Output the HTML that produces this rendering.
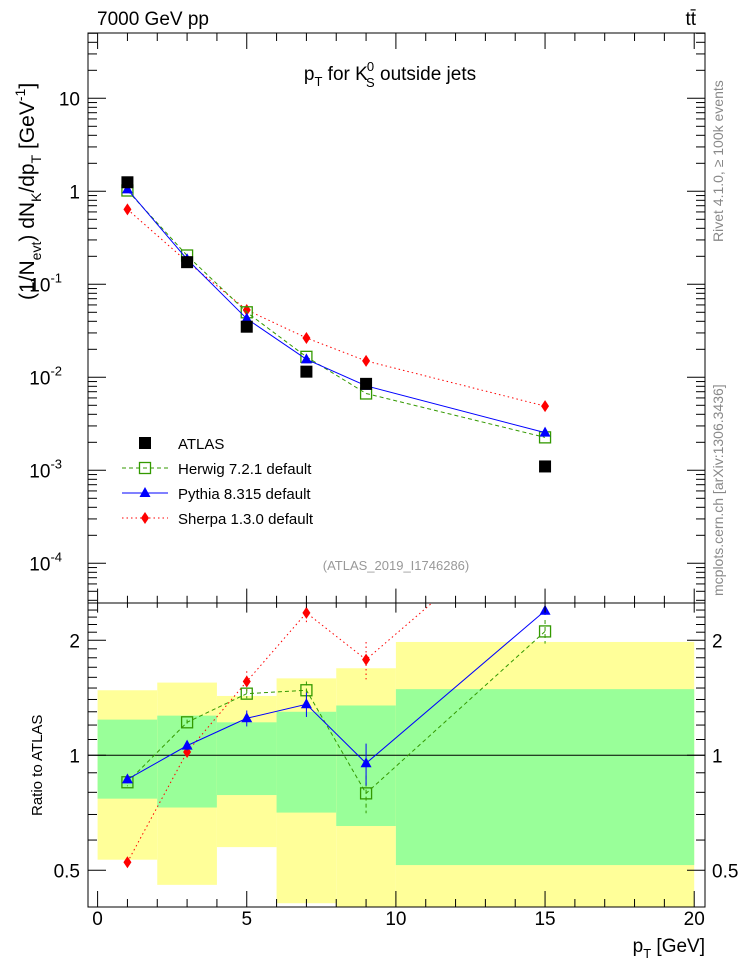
<!DOCTYPE html>
<html><head><meta charset="utf-8"><style>
html,body{margin:0;padding:0;background:#fff;}
svg{display:block;font-family:"Liberation Sans",sans-serif;}
</style></head><body>
<svg id="chart" width="746" height="972" viewBox="0 0 746 972" xmlns="http://www.w3.org/2000/svg">
<defs>
<clipPath id="clipMain"><rect x="88" y="33" width="617" height="570"/></clipPath>
<clipPath id="clipRatio"><rect x="88" y="603" width="617" height="304"/></clipPath>
</defs>
<g id="bands" clip-path="url(#clipRatio)"></g>
<g id="marks"></g>
<rect x="88" y="33" width="617" height="570" fill="none" stroke="#000" stroke-width="1"/>
<rect x="88" y="603" width="617" height="304" fill="none" stroke="#000" stroke-width="1"/>
<g id="ticks" stroke="#000" stroke-width="1"></g>
<g id="labels" font-size="19"></g>
<text x="97" y="25" font-size="19">7000 GeV pp</text>
<text x="696" y="25" font-size="19" text-anchor="end">tt̄</text>
<text x="390" y="80" font-size="19" text-anchor="middle">p<tspan font-size="13" dy="6">T</tspan><tspan dy="-6"> for K</tspan><tspan font-size="13" dx="-1" dy="-9">0</tspan><tspan font-size="13" dx="-8" dy="16">S</tspan><tspan dy="-7"> outside jets</tspan></text>
<text transform="translate(34,300) rotate(-90)" font-size="21">(1/N<tspan font-size="14" dy="7">evt</tspan><tspan dy="-7">) dN</tspan><tspan font-size="14" dy="7">K</tspan><tspan dy="-7">/dp</tspan><tspan font-size="14" dy="7">T</tspan><tspan dy="-7"> [GeV</tspan><tspan font-size="14" dy="-9">-1</tspan><tspan dy="9">]</tspan></text>
<text transform="translate(42,816) rotate(-90)" font-size="15">Ratio to ATLAS</text>
<text x="705" y="952" font-size="19" text-anchor="end">p<tspan font-size="13" dy="6">T</tspan><tspan dy="-6"> [GeV]</tspan></text>
<text transform="translate(723,242) rotate(-90)" font-size="14" fill="#888">Rivet 4.1.0, ≥ 100k events</text>
<text transform="translate(723,596) rotate(-90)" font-size="14" fill="#888">mcplots.cern.ch [arXiv:1306.3436]</text>
<text x="396" y="570" font-size="13" fill="#999" text-anchor="middle">(ATLAS_2019_I1746286)</text>
<g id="legend" font-size="15"></g>
</svg>
<script>
const xs = [1,3,5,7,9,15];
const atlas = [1.25,0.173,0.035,0.0115,0.0085,0.0011];
const herwig = [1.02,0.204,0.050,0.0166,0.0067,0.00226];
const pythia = [1.05,0.186,0.0427,0.0156,0.0081,0.00254];
const sherpa = [0.64,0.175,0.053,0.0265,0.015,0.0049];
const ratioHerwig = [0.85,1.22,1.45,1.48,0.795,2.11];
const ratioPythia = [0.865,1.06,1.25,1.36,0.953,2.39];
const ratioSherpa = [0.525,1.02,1.56,2.36,1.78,4.5];
const errPythia = [0.02,0.03,0.06,0.1,0.12,0.06];
const errHerwig = [0.02,0.02,0.04,0.08,0.09,0.15];
const errSherpa = [0.01,0.03,0.1,0.15,0.2,0.2];
const binEdges = [0,2,4,6,8,10,20];
const yellowTop = [1.48,1.55,1.43,1.59,1.69,1.98];
const greenTop = [1.24,1.27,1.22,1.30,1.35,1.49];
const greenBot = [0.77,0.73,0.787,0.708,0.653,0.516];
const yellowBot = [0.533,0.458,0.575,0.41,0.3,0.3];
const xTicks = [0,5,10,15,20];
const mainTickLabels = ["10","1","10","10","10","10"];
const mainTickExp = [null,null,"-1","-2","-3","-4"];
const mainTickVals = [10,1,0.1,0.01,0.001,0.0001];
const ratioTickVals = [0.5,1,2];
const ratioTickLabels = ["0.5","1","2"];

const NS="http://www.w3.org/2000/svg";
const X = v => 97.6 + 29.83*v;
const YM = v => 191.3 - 93*Math.log10(v);
const YR = r => 755.3 - 115*Math.log2(r);
function mk(tag, attrs, parent){const e=document.createElementNS(NS,tag);for(const k in attrs)e.setAttribute(k,attrs[k]);parent.appendChild(e);return e;}
const bands=document.getElementById('bands'), marks=document.getElementById('marks'), ticks=document.getElementById('ticks'), labels=document.getElementById('labels'), legend=document.getElementById('legend');

for(let i=0;i<6;i++){
  const x0=X(binEdges[i]), x1=X(binEdges[i+1]);
  const y1=mk('rect',{x:x0,y:YR(yellowTop[i]),width:x1-x0,height:YR(yellowBot[i])-YR(yellowTop[i]),fill:'#ffff99'},bands);
  
  
  const g1=mk('rect',{x:x0,y:YR(greenTop[i]),width:x1-x0,height:YR(greenBot[i])-YR(greenTop[i]),fill:'#99ff99'},bands);
  
  
}
const one=mk('line',{x1:88,x2:705,y1:YR(1),y2:YR(1),stroke:'#000','stroke-width':1},bands);



function marker(type,x,y,color,parent){
  if(type==='sq') return mk('rect',{x:x-6,y:y-6,width:12,height:12,fill:'#000'},parent);
  if(type==='osq') return mk('rect',{x:x-5.5,y:y-5.5,width:11,height:11,fill:'none',stroke:color,'stroke-width':1.3},parent);
  if(type==='tri') return mk('polygon',{points:`${x},${y-6} ${x-5.5},${y+4} ${x+5.5},${y+4}`,fill:color},parent);
  return mk('polygon',{points:`${x},${y-6} ${x-4},${y} ${x},${y+6} ${x+4},${y}`,fill:color},parent);
}
const series=[
 {name:'sherpa',vals:sherpa,rat:ratioSherpa,err:errSherpa,color:'#ff0000',dash:'1.5,3',m:'dia'},
 {name:'herwig',vals:herwig,rat:ratioHerwig,err:errHerwig,color:'#339900',dash:'4,3',m:'osq'},
 {name:'pythia',vals:pythia,rat:ratioPythia,err:errPythia,color:'#0000ff',dash:'none',m:'tri'}
];
const gm=mk('g',{'clip-path':'url(#clipMain)'},marks);
const gr=mk('g',{'clip-path':'url(#clipRatio)'},marks);
series.forEach(s=>{
  const pl=mk('polyline',{points:xs.map((x,i)=>X(x)+','+YM(s.vals[i])).join(' '),fill:'none',stroke:s.color,'stroke-width':1,'stroke-dasharray':s.dash},gm);
  
  
  xs.forEach((x,i)=>{const m=marker(s.m,X(x),YM(s.vals[i]),s.color,gm);
    
    });
  const pr=mk('polyline',{points:xs.map((x,i)=>X(x)+','+YR(s.rat[i])).join(' '),fill:'none',stroke:s.color,'stroke-width':1,'stroke-dasharray':s.dash},gr);
  
  
  xs.forEach((x,i)=>{
    const r=s.rat[i], e=s.err[i];
    const eb=mk('line',{x1:X(x),x2:X(x),y1:YR(r+e),y2:YR(Math.max(r-e,0.01)),stroke:s.color,'stroke-width':1,'stroke-dasharray':s.dash==='none'?'none':s.dash},gr);
    
    
    const m=marker(s.m,X(x),YR(r),s.color,gr);
    
    });
});
xs.forEach((x,i)=>{const m=marker('sq',X(x),YM(atlas[i]),'#000',gm);
  
  });

for(let v=0;v<=20;v++){
  const len=(v%5===0)?16:8, x=X(v);
  mk('line',{x1:x,x2:x,y1:907,y2:907-len},ticks);
  mk('line',{x1:x,x2:x,y1:603,y2:603-len*0.9},ticks);
  mk('line',{x1:x,x2:x,y1:603,y2:603+len*0.6},ticks);
  mk('line',{x1:x,x2:x,y1:33,y2:33+len},ticks);
}
xTicks.forEach(v=>{const t=mk('text',{x:X(v),y:925,'text-anchor':'middle'},labels);t.textContent=v;
  
  });
for(let d=-5;d<=1;d++){for(let k=1;k<10;k++){const v=k*Math.pow(10,d);const y=YM(v);if(y<33||y>603)continue;
  const len=k===1?18:9;mk('line',{x1:88,x2:88+len,y1:y,y2:y},ticks);mk('line',{x1:705,x2:705-len,y1:y,y2:y},ticks);}}
mainTickVals.forEach((v,i)=>{const t=mk('text',{x:mainTickExp[i]?62:80,y:YM(v)+7,'text-anchor':'end'},labels);t.textContent=mainTickLabels[i];
  
  
  if(mainTickExp[i]){const s=mk('tspan',{'font-size':13,dy:-9},t);s.textContent=mainTickExp[i];}});
for(let r=0.4;r<=2.5;r+=0.1){const y=YR(r);if(y<603||y>907)continue;
  const major=[0.5,1,2].some(m=>Math.abs(m-r)<1e-6);const len=major?18:9;
  mk('line',{x1:88,x2:88+len,y1:y,y2:y},ticks);mk('line',{x1:705,x2:705-len,y1:y,y2:y},ticks);}
ratioTickVals.forEach((v,i)=>{
  const t=mk('text',{x:80,y:YR(v)+7,'text-anchor':'end'},labels);t.textContent=ratioTickLabels[i];
  
  
  const t2=mk('text',{x:712,y:YR(v)+7},labels);t2.textContent=ratioTickLabels[i];
  
  });
const leg=[['ATLAS','sq','#000','none'],['Herwig 7.2.1 default','osq','#339900','4,3'],['Pythia 8.315 default','tri','#0000ff','none'],['Sherpa 1.3.0 default','dia','#ff0000','1.5,3']];
leg.forEach((l,i)=>{const y=443+i*25;
  const g=mk('g',{},legend);
  
  
  if(i>0) mk('line',{x1:122,x2:168,y1:y,y2:y,stroke:l[2],'stroke-width':1,'stroke-dasharray':l[3]},g);
  marker(l[1],145,y,l[2],g);
  const t=mk('text',{x:178,y:y+6},g);t.textContent=l[0];});
</script>
</body></html>
